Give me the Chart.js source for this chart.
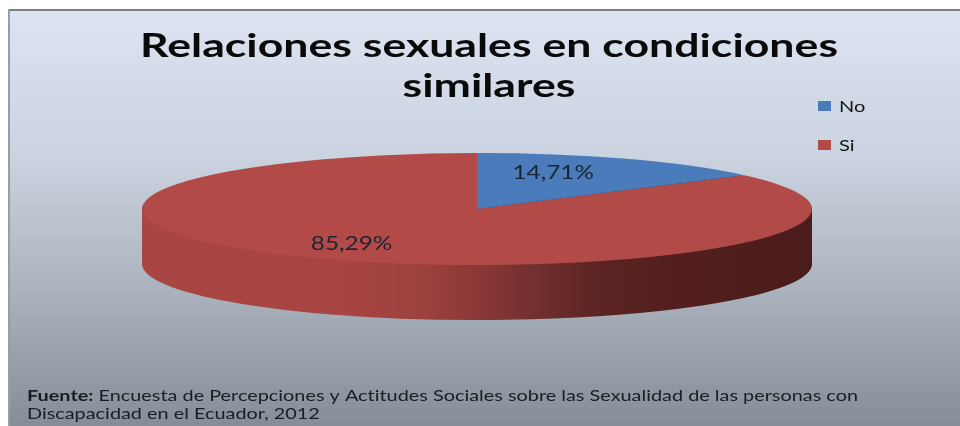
<!DOCTYPE html>
<html>
<head>
<meta charset="utf-8">
<script src="https://cdn.jsdelivr.net/npm/chart.js@4/dist/chart.umd.min.js"></script>
<style>
  html, body { margin: 0; padding: 0; background: #ffffff; }
  #wrap { width: 960px; height: 426px; }
</style>
</head>
<body>
<div id="wrap"><canvas id="c" width="960" height="426"></canvas></div>
<script>
// Survey answers and their shares (percent)
const categories = ['No', 'Si'];
const shares = [14.71, 85.29];
const titleLines = ['Relaciones sexuales en condiciones', 'similares'];
const sourceLead = 'Fuente:';
const sourceLines = [
  ' Encuesta de Percepciones y Actitudes Sociales sobre las Sexualidad de las personas con',
  'Discapacidad en el Ecuador, 2012'
];

// Slice colours: top face and the darker side wall
const topColors = ['#4a7cbc', '#b24b48'];
const sideStops = [
  [[0, '#2f5484'], [0.5, '#27466f'], [1, '#1a2f4b']],
  [[0, '#a94644'], [0.3, '#a84543'], [0.42, '#9c413e'], [0.5, '#8b3836'],
   [0.58, '#733030'], [0.68, '#5c2422'], [0.8, '#521f1e'], [1, '#4a1c1b']]
];

const TILT = 56 / 335;    // vertical/horizontal radius of the tilted disc
const DEPTH = 55 / 335;   // wall height relative to horizontal radius
const FONT = 'Lato, "Open Sans", sans-serif';

function fmtPct(v) { return v.toFixed(2).replace('.', ',') + '%'; }

// geometry of the flattened disc, derived from the chart area
function discGeom(chart) {
  const a = chart.chartArea;
  const rx = (a.right - a.left) / 2;
  const ry = rx * TILT;
  return { cx: (a.left + a.right) / 2, cy: a.top + ry, rx: rx, ry: ry, depth: rx * DEPTH };
}

function toDisc(ctx, g, arc, dy) {
  const r = arc.outerRadius;
  ctx.translate(g.cx, g.cy + dy);
  ctx.scale(g.rx / r, g.ry / r);
  ctx.translate(-arc.x, -arc.y);
}

function wideText(ctx, str, x, y, sx, align) {
  ctx.save();
  ctx.translate(x, y);
  ctx.scale(sx, 1);
  ctx.textAlign = align || 'left';
  ctx.fillText(str, 0, 0);
  ctx.restore();
}

const backdrop = {
  id: 'backdrop',
  beforeDraw(chart) {
    const ctx = chart.ctx;
    const W = chart.width, H = chart.height;
    ctx.save();
    ctx.fillStyle = '#ffffff';
    ctx.fillRect(0, 0, W, H);
    const grd = ctx.createLinearGradient(0, 10, 0, H);
    grd.addColorStop(0, '#dbe4f0');
    grd.addColorStop(0.35, '#cad3df');
    grd.addColorStop(0.65, '#adb5c0');
    grd.addColorStop(1, '#868d97');
    ctx.fillStyle = grd;
    ctx.fillRect(9, 10, W - 9, H - 10);
    ctx.fillStyle = '#7d7f83';
    ctx.fillRect(8, 9, W - 8, 2);
    ctx.fillStyle = '#9a9ea4';
    ctx.fillRect(8, 9, 2, H - 9);
    ctx.restore();
  }
};

const disc3d = {
  id: 'disc3d',
  beforeDatasetsDraw(chart) {
    const ctx = chart.ctx;
    const meta = chart.getDatasetMeta(0);
    const g = discGeom(chart);
    // side wall: the slices stacked downward in their darker shades
    for (let d = Math.round(g.depth); d >= 1; d--) {
      meta.data.forEach((arc, i) => {
        ctx.save();
        toDisc(ctx, g, arc, d);
        const r = arc.outerRadius;
        const sg = ctx.createLinearGradient(arc.x - r, 0, arc.x + r, 0);
        sideStops[i].forEach(s => sg.addColorStop(s[0], s[1]));
        const saved = arc.options;
        arc.options = Object.assign({}, saved, { backgroundColor: sg, borderWidth: 0 });
        arc.draw(ctx);
        arc.options = saved;
        ctx.restore();
      });
    }
    // the top face is drawn by the pie controller inside this transform
    ctx.save();
    toDisc(ctx, g, meta.data[0], 0);
  },
  afterDatasetsDraw(chart) {
    const ctx = chart.ctx;
    ctx.restore();
    const meta = chart.getDatasetMeta(0);
    const g = discGeom(chart);
    const place = [{ fx: 0.51, fy: 0.72 }, { fx: 0.84, fy: 0.70 }];
    ctx.save();
    ctx.font = '19px ' + FONT;
    ctx.fillStyle = '#1c2433';
    ctx.textBaseline = 'middle';
    meta.data.forEach((arc, i) => {
      const mid = (arc.startAngle + arc.endAngle) / 2;
      const x = g.cx + Math.cos(mid) * g.rx * place[i].fx;
      const y = g.cy + Math.sin(mid) * g.ry * place[i].fy;
      wideText(ctx, fmtPct(chart.data.datasets[0].data[i]), x, y, 1.28, 'center');
    });
    ctx.restore();
  },
  afterDraw(chart) {
    const ctx = chart.ctx;
    ctx.save();
    if ('letterSpacing' in ctx) ctx.letterSpacing = '0.01px';
    // title
    ctx.fillStyle = '#0a0a0a';
    ctx.font = 'bold 33px ' + FONT;
    ctx.textBaseline = 'alphabetic';
    const tsx = 698 / ctx.measureText(titleLines[0]).width;
    wideText(ctx, titleLines[0], 489, 57, tsx, 'center');
    wideText(ctx, titleLines[1], 489, 97, tsx, 'center');

    // legend
    const ds = chart.data.datasets[0];
    const rows = [106, 145];
    chart.data.labels.forEach((lab, i) => {
      ctx.fillStyle = ds.backgroundColor[i];
      ctx.fillRect(818, rows[i] - 5, 13, 10);
      ctx.fillStyle = '#141414';
      ctx.font = '16px ' + FONT;
      ctx.textBaseline = 'middle';
      wideText(ctx, lab, 839, rows[i] + 1, 1.25, 'left');
    });

    // source note
    ctx.textBaseline = 'alphabetic';
    ctx.fillStyle = '#1a1d22';
    ctx.font = 'bold 15px ' + FONT;
    const leadW = ctx.measureText(sourceLead).width;
    ctx.font = '15px ' + FONT;
    const restW = ctx.measureText(sourceLines[0]).width;
    const fsx = (858 - 27) / (leadW + restW);
    ctx.font = 'bold 15px ' + FONT;
    wideText(ctx, sourceLead, 27, 401, fsx, 'left');
    ctx.font = '15px ' + FONT;
    wideText(ctx, sourceLines[0], 27 + leadW * fsx, 401, fsx, 'left');
    wideText(ctx, sourceLines[1], 27, 419, fsx, 'left');
    ctx.restore();
  }
};

new Chart(document.getElementById('c'), {
  type: 'pie',
  data: {
    labels: categories,
    datasets: [{
      data: shares,
      backgroundColor: topColors,
      borderWidth: 0,
      clip: false
    }]
  },
  options: {
    responsive: false,
    animation: false,
    events: [],
    layout: { padding: { left: 142, right: 148, top: 153, bottom: 106 } },
    plugins: {
      legend: { display: false },
      title: { display: false },
      tooltip: { enabled: false }
    }
  },
  plugins: [backdrop, disc3d]
});
</script>
</body>
</html>
